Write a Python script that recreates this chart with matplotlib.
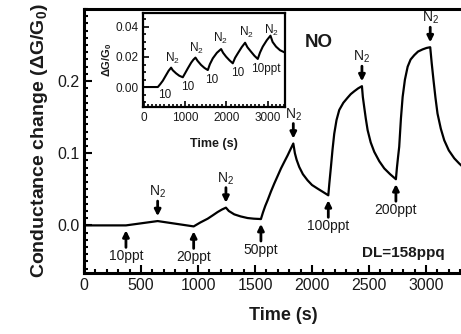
import matplotlib
matplotlib.use("Agg")
import matplotlib.pyplot as plt
import numpy as np
from matplotlib.ticker import MultipleLocator

plt.rcParams['font.family'] = ['Liberation Sans', 'DejaVu Sans']
plt.rcParams['mathtext.fontset'] = 'custom'
plt.rcParams['mathtext.rm'] = 'Liberation Sans'
plt.rcParams['mathtext.bf'] = 'Liberation Sans:bold'

# main response curve (time s, dG/G0)
t_main = [0, 368, 646, 962, 1020, 1085, 1130, 1172, 1210, 1245, 1270, 1318, 1375,
          1435, 1490, 1552, 1570, 1590, 1611, 1640, 1669, 1700, 1728, 1760, 1786,
          1810, 1836, 1850, 1865, 1888, 1920, 1961, 2000, 2049, 2100, 2143, 2152,
          2166, 2180, 2195, 2215, 2239, 2275, 2312, 2340, 2371, 2405, 2438, 2446,
          2458, 2472, 2488, 2515, 2546, 2590, 2634, 2685, 2736, 2745, 2755, 2765,
          2780, 2795, 2815, 2839, 2865, 2897, 2930, 2970, 3005, 3037, 3050, 3066,
          3083, 3101, 3130, 3160, 3200, 3248, 3290, 3330]
g_main = [0.0, 0.0, 0.006, -0.0014, 0.004, 0.0093, 0.014, 0.0185, 0.022, 0.0246,
          0.020, 0.0153, 0.0124, 0.0102, 0.0093, 0.0088, 0.018, 0.027, 0.035, 0.047,
          0.058, 0.069, 0.079, 0.089, 0.097, 0.105, 0.1135, 0.100, 0.091, 0.081,
          0.071, 0.0625, 0.056, 0.051, 0.046, 0.0417, 0.058, 0.081, 0.105, 0.127,
          0.146, 0.160, 0.170, 0.177, 0.182, 0.186, 0.190, 0.193, 0.178, 0.164,
          0.148, 0.132, 0.115, 0.102, 0.089, 0.079, 0.071, 0.064, 0.080, 0.095,
          0.109, 0.148, 0.178, 0.202, 0.220, 0.230, 0.236, 0.241, 0.244, 0.246,
          0.247, 0.225, 0.201, 0.177, 0.155, 0.134, 0.118, 0.104, 0.093, 0.086, 0.080]

inject_t = [368, 962, 1552, 2143, 2736]
inject_lbl = ['10ppt', '20ppt', '50ppt', '100ppt', '200ppt']
purge_t = [646, 1245, 1836, 2438, 3037]

# inset: repeated 10 ppt pulses
t_ins = [0, 340, 400, 460, 540, 600, 661, 700, 782, 860, 944, 1000, 1065, 1146,
         1200, 1251, 1300, 1387, 1470, 1550, 1600, 1671, 1770, 1872, 1920, 1993,
         2075, 2155, 2210, 2276, 2370, 2453, 2510, 2598, 2680, 2760, 2815, 2881,
         2980, 3068, 3120, 3203, 3300, 3407]
g_ins = [0.0, 0.0, 0.002, 0.0042, 0.008, 0.0108, 0.0129, 0.0112, 0.0091, 0.0075,
         0.0065, 0.0092, 0.0124, 0.0162, 0.0182, 0.0196, 0.0175, 0.0147, 0.0127,
         0.0113, 0.0152, 0.0191, 0.0228, 0.0253, 0.0228, 0.0202, 0.0178, 0.0158,
         0.0194, 0.0224, 0.0265, 0.0295, 0.0265, 0.0235, 0.0208, 0.0187, 0.0230,
         0.0269, 0.0312, 0.0342, 0.0300, 0.0269, 0.0245, 0.0231]
ins_n2_t = [686, 1267, 1857, 2477, 3082]
ins_n2_y = [0.019, 0.0258, 0.0325, 0.0362, 0.038]
ins_10_t = [500, 1065, 1654, 2276, 2961]
ins_10_y = [-0.0053, 0.0002, 0.0047, 0.0095, 0.0118]
ins_10_lbl = ['10', '10', '10', '10', '10ppt']

txt = '#1a1a1a'
fig = plt.figure(figsize=(4.61, 3.34), dpi=100)
ax = fig.add_axes([84/461, 61/334, 3500*0.114/461, 264/334])
ax.plot(t_main, g_main, color='k', lw=1.6)
ax.set_xlim(0, 3500)
ax.set_ylim(-0.066, 0.30)
ax.set_xticks([0, 500, 1000, 1500, 2000, 2500, 3000])
ax.xaxis.set_minor_locator(MultipleLocator(100))
ax.yaxis.set_minor_locator(MultipleLocator(0.01))
ax.tick_params(which='both', direction='in', width=1.5, colors='k', labelcolor=txt,
               labelsize=11.5, top=False, right=False)
ax.tick_params(which='major', length=6)
ax.tick_params(which='minor', length=3)
ax.set_yticks([0.0, 0.1, 0.2])
ax.set_yticklabels(['0.0', '0.1', '0.2'])
for s in ax.spines.values():
    s.set_linewidth(2.2)
ax.spines['right'].set_visible(False)
ax.set_xlabel('Time (s)', fontsize=13, fontweight='bold', color=txt, labelpad=10)
ax.set_ylabel(r'Conductance change (ΔG/G$_\mathbf{0}$)', fontsize=14,
              fontweight='bold', color=txt, labelpad=5)

arr = dict(arrowstyle='-|>', color='k', lw=2, shrinkA=0, shrinkB=3.5, mutation_scale=9)
for t, lbl in zip(inject_t, inject_lbl):
    v = np.interp(t, t_main, g_main)
    ax.annotate('', xy=(t, v), xytext=(0, -22), textcoords='offset pixels', arrowprops=arr)
    ax.annotate(lbl, xy=(t, v), xytext=(0, -31), textcoords='offset pixels',
                ha='center', va='center', fontsize=10, color=txt)
for t in purge_t:
    v = np.interp(t, t_main, g_main)
    ax.annotate('', xy=(t, v), xytext=(0, 20), textcoords='offset pixels', arrowprops=arr)
    ax.annotate(r'N$_2$', xy=(t, v), xytext=(0, 29), textcoords='offset pixels',
                ha='center', va='center', fontsize=10, color=txt)

ax.text(2061, 0.254, 'NO', fontsize=13.5, fontweight='bold', color=txt, ha='center', va='center')
ax.text(2797, -0.038, 'DL=158ppq', fontsize=11, fontweight='bold', color=txt,
        ha='center', va='center')

# inset
ins = fig.add_axes([143/461, (334-107)/334, 142/461, 94/334])
ins.plot(t_ins, g_ins, color='k', lw=1.5)
ins.set_xlim(-20, 3420)
ins.set_ylim(-0.0133, 0.0493)
ins.xaxis.set_major_locator(MultipleLocator(1000))
ins.xaxis.set_minor_locator(MultipleLocator(100))
ins.yaxis.set_minor_locator(MultipleLocator(0.005))
ins.tick_params(which='both', direction='in', width=1.2, labelcolor=txt, labelsize=8.5,
                top=False, right=False)
ins.tick_params(which='major', length=4)
ins.tick_params(which='minor', length=2)
ins.set_yticks([0.0, 0.02, 0.04])
ins.set_yticklabels(['0.00', '0.02', '0.04'])
for s in ins.spines.values():
    s.set_linewidth(1.6)
ins.set_xlabel('Time (s)', fontsize=9, fontweight='bold', color=txt, labelpad=10)
ins.set_ylabel(r'ΔG/G$_\mathbf{0}$', fontsize=8, fontweight='bold', color=txt, labelpad=1)
for t, y in zip(ins_n2_t, ins_n2_y):
    ins.text(t, y, r'N$_2$', fontsize=8.5, color=txt, ha='center', va='center')
for t, y, lbl in zip(ins_10_t, ins_10_y, ins_10_lbl):
    ins.text(t, y, lbl, fontsize=8.5, color=txt, ha='center', va='center')

fig.savefig('out.png', dpi=100)
